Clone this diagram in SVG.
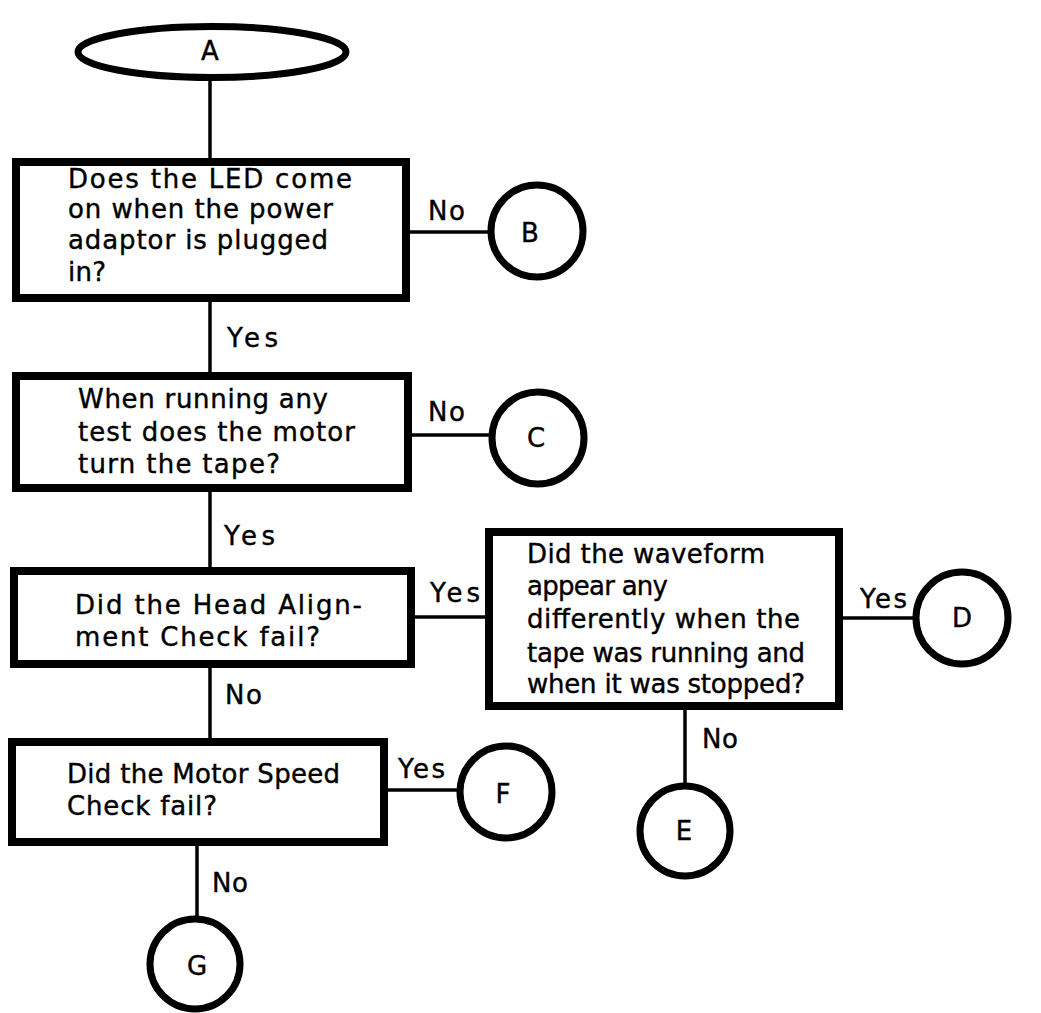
<svg xmlns="http://www.w3.org/2000/svg" width="1041" height="1013" viewBox="0 0 1041 1013">
<style>
.box{fill:#fff;stroke:#000;stroke-width:8}
.term{fill:#fff;stroke:#000;stroke-width:7}
.con{stroke:#000;stroke-width:3.5;fill:none}
text{font-family:"DejaVu Sans","Liberation Sans",sans-serif;font-size:26px;fill:#000;stroke:#000;stroke-width:0.4}
.lt{text-anchor:middle;font-size:26px}
.lbl{font-size:26px}
</style>
<rect width="1041" height="1013" fill="#fff"/>
<g id="connectors">
<line class="con" x1="210" y1="80" x2="210" y2="160"/>
<line class="con" x1="410" y1="232" x2="490" y2="232"/>
<line class="con" x1="210" y1="300" x2="210" y2="374"/>
<line class="con" x1="410" y1="435" x2="491" y2="435"/>
<line class="con" x1="210" y1="490" x2="210" y2="569"/>
<line class="con" x1="413" y1="617" x2="488" y2="617"/>
<line class="con" x1="842" y1="618" x2="915" y2="618"/>
<line class="con" x1="685" y1="708" x2="685" y2="785"/>
<line class="con" x1="210" y1="666" x2="210" y2="740"/>
<line class="con" x1="386" y1="790" x2="460" y2="790"/>
<line class="con" x1="197" y1="844" x2="197" y2="920"/>
<text class="lbl" x="428" y="220" textLength="37" lengthAdjust="spacing">No</text>
<text class="lbl" x="227" y="347" textLength="51" lengthAdjust="spacing">Yes</text>
<text class="lbl" x="428" y="421" textLength="37" lengthAdjust="spacing">No</text>
<text class="lbl" x="224" y="545" textLength="51" lengthAdjust="spacing">Yes</text>
<text class="lbl" x="430" y="602" textLength="50" lengthAdjust="spacing">Yes</text>
<text class="lbl" x="860" y="608" textLength="47" lengthAdjust="spacing">Yes</text>
<text class="lbl" x="702" y="748" textLength="36" lengthAdjust="spacing">No</text>
<text class="lbl" x="225" y="704" textLength="37" lengthAdjust="spacing">No</text>
<text class="lbl" x="398" y="778" textLength="47" lengthAdjust="spacing">Yes</text>
<text class="lbl" x="212" y="892" textLength="36" lengthAdjust="spacing">No</text>
</g>
<g id="nodeA">
<ellipse class="term" cx="212" cy="52" rx="134" ry="25.5"/>
<text class="lt" x="210" y="60">A</text>
</g>
<g id="q1">
<rect class="box" x="16" y="162" width="390" height="136"/>
<text x="68" y="188" textLength="284" lengthAdjust="spacing">Does the LED come</text>
<text x="68" y="218" textLength="265" lengthAdjust="spacing">on when the power</text>
<text x="68" y="249" textLength="260" lengthAdjust="spacing">adaptor is plugged</text>
<text x="68" y="281" textLength="38" lengthAdjust="spacing">in?</text>
</g>
<g id="nodeB">
<circle class="term" cx="537" cy="231" r="46"/>
<text class="lt" x="530" y="242">B</text>
</g>
<g id="q2">
<rect class="box" x="16" y="376" width="392" height="112"/>
<text x="78" y="408" textLength="250" lengthAdjust="spacing">When running any</text>
<text x="78" y="441" textLength="277" lengthAdjust="spacing">test does the motor</text>
<text x="78" y="473" textLength="202" lengthAdjust="spacing">turn the tape?</text>
</g>
<g id="nodeC">
<circle class="term" cx="538" cy="438" r="46"/>
<text class="lt" x="536" y="447">C</text>
</g>
<g id="q3">
<rect class="box" x="14" y="571" width="397" height="93"/>
<text x="75" y="614" textLength="287" lengthAdjust="spacing">Did the Head Align-</text>
<text x="75" y="646" textLength="245" lengthAdjust="spacing">ment Check fail?</text>
</g>
<g id="q4">
<rect class="box" x="489" y="532" width="350" height="174"/>
<text x="527" y="563" textLength="238" lengthAdjust="spacing">Did the waveform</text>
<text x="527" y="595" textLength="141" lengthAdjust="spacing">appear any</text>
<text x="527" y="628" textLength="273" lengthAdjust="spacing">differently when the</text>
<text x="527" y="662" textLength="278" lengthAdjust="spacing">tape was running and</text>
<text x="527" y="693" textLength="278" lengthAdjust="spacing">when it was stopped?</text>
</g>
<g id="nodeD">
<circle class="term" cx="962" cy="618" r="46"/>
<text class="lt" x="962" y="627">D</text>
</g>
<g id="nodeE">
<circle class="term" cx="685" cy="831" r="45"/>
<text class="lt" x="684" y="840">E</text>
</g>
<g id="q5">
<rect class="box" x="12" y="742" width="372" height="100"/>
<text x="67" y="783" textLength="273" lengthAdjust="spacing">Did the Motor Speed</text>
<text x="67" y="815" textLength="150" lengthAdjust="spacing">Check fail?</text>
</g>
<g id="nodeF">
<circle class="term" cx="506" cy="792" r="46"/>
<text class="lt" x="503" y="803">F</text>
</g>
<g id="nodeG">
<circle class="term" cx="195" cy="964" r="45"/>
<text class="lt" x="197" y="975">G</text>
</g>
</svg>
